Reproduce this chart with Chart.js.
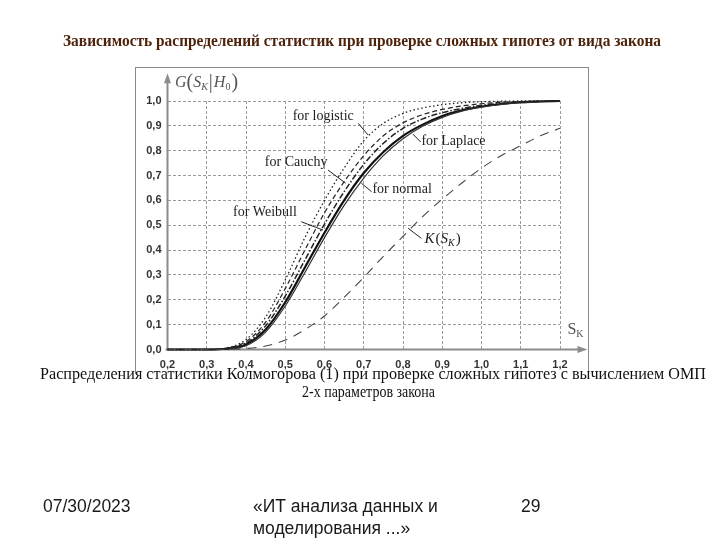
<!DOCTYPE html>
<html><head><meta charset="utf-8">
<script src="https://cdn.jsdelivr.net/npm/chart.js@4.4.0/dist/chart.umd.min.js"></script>
<style>
html,body{margin:0;padding:0;background:#fff;width:720px;height:540px;overflow:hidden;}
#wrap{position:relative;width:720px;height:540px;}
canvas{position:absolute;left:0;top:0;}
.t{position:absolute;white-space:nowrap;transform-origin:0 0;}
#title{left:63px;top:33px;font:bold 16.5px "Liberation Serif",serif;color:#4e230c;line-height:16px;}
#frame{position:absolute;left:135px;top:67px;width:452px;height:306px;border:1.5px solid #8a8a8a;border-bottom:none;}
.cap{font:16.5px "Liberation Serif",serif;line-height:18px;color:#111;}
.foot{font:17.5px "Liberation Sans",Arial,sans-serif;line-height:22px;color:#1a1a1a;}
</style></head>
<body><div id="wrap">
<div id="frame"></div>
<canvas id="c" width="720" height="540"></canvas>
<div class="t" id="title" data-w="598">Зависимость распределений статистик при проверке сложных гипотез от вида закона</div>
<div class="t cap" style="left:40px;top:365.4px" data-w="666">Распределения статистики Колмогорова (1) при проверке сложных гипотез с вычислением ОМП</div>
<div class="t cap" style="left:302px;top:383.4px" data-w="133">2-х параметров закона</div>
<div class="t foot" style="left:43px;top:495px">07/30/2023</div>
<div class="t foot" style="left:253px;top:495px">«ИТ анализа данных и<br>моделирования ...»</div>
<div class="t foot" style="left:521px;top:495px">29</div>
</div>
<script>
// ---- data ----
const xs       = [0.2, 0.3, 0.35, 0.4, 0.45, 0.5, 0.55, 0.6, 0.65, 0.7, 0.75, 0.8, 0.85, 0.9, 0.95, 1.0, 1.05, 1.1, 1.15, 1.2];
const logistic = [0, 0, 0.006, 0.04, 0.13, 0.28, 0.45, 0.60, 0.73, 0.84, 0.91, 0.95, 0.972, 0.985, 0.993, 0.997, 0.999, 1, 1, 1];
const cauchy   = [0, 0, 0.005, 0.032, 0.11, 0.245, 0.40, 0.55, 0.675, 0.78, 0.86, 0.912, 0.945, 0.966, 0.98, 0.989, 0.995, 0.998, 0.999, 1];
const weibull  = [0, 0, 0.004, 0.026, 0.095, 0.215, 0.36, 0.505, 0.635, 0.745, 0.83, 0.89, 0.928, 0.953, 0.97, 0.983, 0.991, 0.996, 0.999, 1];
const normal   = [0, 0, 0.003, 0.02, 0.08, 0.19, 0.33, 0.47, 0.60, 0.71, 0.795, 0.86, 0.905, 0.94, 0.963, 0.978, 0.988, 0.995, 0.998, 1];
const laplace  = [0, 0, 0.002, 0.015, 0.07, 0.175, 0.31, 0.45, 0.58, 0.69, 0.78, 0.848, 0.898, 0.934, 0.959, 0.975, 0.986, 0.993, 0.997, 1];
const kolmog   = [0, 0, 0.001, 0.004, 0.014, 0.038, 0.08, 0.135, 0.21, 0.29, 0.375, 0.455, 0.535, 0.605, 0.67, 0.73, 0.78, 0.82, 0.86, 0.89];
const xTickValues = [0.2, 0.3, 0.4, 0.5, 0.6, 0.7, 0.8, 0.9, 1.0, 1.1, 1.2];
const xTickLabels = ['0,2','0,3','0,4','0,5','0,6','0,7','0,8','0,9','1,0','1,1','1,2'];
const yTickValues = [0, 0.1, 0.2, 0.3, 0.4, 0.5, 0.6, 0.7, 0.8, 0.9, 1.0];
const yTickLabels = ['0,0','0,1','0,2','0,3','0,4','0,5','0,6','0,7','0,8','0,9','1,0'];
const curveNames = ['for logistic','for Cauchy','for Weibull','for Laplace','for normal'];

// ---- annotation placement (data units) ----
const notes = [
  {text: curveNames[0], at: [0.519, 0.94], lead: [[0.686, 0.91], [0.711, 0.863]]},
  {text: curveNames[1], at: [0.448, 0.752], lead: [[0.609, 0.722], [0.654, 0.669]]},
  {text: curveNames[2], at: [0.367, 0.551], lead: [[0.541, 0.514], [0.596, 0.481]]},
  {text: curveNames[3], at: [0.847, 0.839], lead: [[0.845, 0.835], [0.825, 0.867]]},
  {text: curveNames[4], at: [0.722, 0.646], lead: [[0.72, 0.635], [0.694, 0.669]]}
];

function pts(ys){ return xs.map((x,i)=>({x:x, y:ys[i]})); }

function drawParts(ctx, parts, x, y){
  let cx = x;
  parts.forEach(p=>{
    ctx.font = p.f;
    ctx.fillText(p.s, cx, y + (p.dy||0));
    cx += ctx.measureText(p.s).width + (p.gap||0);
  });
}

const decor = {
  id: 'decor',
  beforeDatasetsDraw(chart){
    const {ctx, scales:{x, y}} = chart;
    const x0 = x.getPixelForValue(0.2), y0 = y.getPixelForValue(0);
    const yTop = y.getPixelForValue(1.112), xEnd = x.getPixelForValue(1.27);
    ctx.save();
    ctx.strokeStyle = '#8c8c8c'; ctx.fillStyle = '#8c8c8c'; ctx.lineWidth = 2;
    ctx.beginPath(); ctx.moveTo(x0, y0 + 1); ctx.lineTo(x0, yTop + 8); ctx.stroke();
    ctx.beginPath(); ctx.moveTo(x0, yTop); ctx.lineTo(x0 - 3.5, yTop + 10); ctx.lineTo(x0 + 3.5, yTop + 10); ctx.closePath(); ctx.fill();
    ctx.beginPath(); ctx.moveTo(x0 - 2, y0); ctx.lineTo(xEnd - 8, y0); ctx.stroke();
    ctx.beginPath(); ctx.moveTo(xEnd, y0); ctx.lineTo(xEnd - 10, y0 - 3.5); ctx.lineTo(xEnd - 10, y0 + 3.5); ctx.closePath(); ctx.fill();
    ctx.restore();
  },
  afterDatasetsDraw(chart){
    const {ctx, scales:{x, y}} = chart;
    ctx.save();
    ctx.fillStyle = '#222'; ctx.strokeStyle = '#222'; ctx.lineWidth = 1;
    ctx.textBaseline = 'middle'; ctx.textAlign = 'left';
    notes.forEach(n=>{
      ctx.font = '14px "Liberation Serif", serif';
      ctx.fillText(n.text, x.getPixelForValue(n.at[0]), y.getPixelForValue(n.at[1]));
      ctx.beginPath();
      ctx.moveTo(x.getPixelForValue(n.lead[0][0]), y.getPixelForValue(n.lead[0][1]));
      ctx.lineTo(x.getPixelForValue(n.lead[1][0]), y.getPixelForValue(n.lead[1][1]));
      ctx.stroke();
    });
    // K(S_K) label
    const kx = x.getPixelForValue(0.855), ky = y.getPixelForValue(0.443);
    drawParts(ctx, [
      {s:'K', f:'italic 15px "Liberation Serif", serif', gap:1},
      {s:'(', f:'15px "Liberation Serif", serif'},
      {s:'S', f:'italic 15px "Liberation Serif", serif'},
      {s:'K', f:'italic 10px "Liberation Serif", serif', dy:4, gap:1},
      {s:')', f:'15px "Liberation Serif", serif'}
    ], kx, ky);
    ctx.beginPath();
    ctx.moveTo(x.getPixelForValue(0.847), y.getPixelForValue(0.447));
    ctx.lineTo(x.getPixelForValue(0.813), y.getPixelForValue(0.488));
    ctx.stroke();
    // axis titles
    ctx.fillStyle = '#555';
    drawParts(ctx, [
      {s:'G', f:'italic 16px "Liberation Serif", serif', gap:0},
      {s:'(', f:'20px "Liberation Serif", serif'},
      {s:'S', f:'italic 16px "Liberation Serif", serif'},
      {s:'K', f:'italic 10px "Liberation Serif", serif', dy:4, gap:1},
      {s:'|', f:'20px "Liberation Serif", serif', gap:1},
      {s:'H', f:'italic 16px "Liberation Serif", serif'},
      {s:'0', f:'10px "Liberation Serif", serif', dy:4, gap:1},
      {s:')', f:'20px "Liberation Serif", serif'}
    ], x.getPixelForValue(0.219), y.getPixelForValue(1.072));
    drawParts(ctx, [
      {s:'S', f:'16px "Liberation Serif", serif'},
      {s:'K', f:'10px "Liberation Serif", serif', dy:5}
    ], x.getPixelForValue(1.219), y.getPixelForValue(0.08));
    ctx.restore();
  }
};

function ds(data, dash, width, color){
  return {data: pts(data), borderColor: color, borderWidth: width, borderDash: dash,
          pointRadius: 0, fill: false, cubicInterpolationMode: 'monotone', clip: 4};
}

new Chart(document.getElementById('c'), {
  type: 'line',
  data: { datasets: [
    ds(kolmog,   [9, 7], 1.1, '#444'),
    ds(logistic, [1.5, 2.5], 1.3, '#222'),
    ds(cauchy,   [5, 3], 1.2, '#222'),
    ds(weibull,  [6, 2, 1.5, 2], 1.5, '#222'),
    ds(laplace,  [], 1.2, '#333'),
    ds(normal,   [], 2.2, '#111')
  ]},
  options: {
    responsive: false, animation: false, devicePixelRatio: 1,
    layout: { padding: { left: 100, top: 101, right: 160, bottom: 160.5 } },
    plugins: { legend: {display: false}, tooltip: {enabled: false}, title: {display: false} },
    scales: {
      x: { type: 'linear', min: 0.2, max: 1.2,
           afterBuildTicks: s => { s.ticks = xTickValues.map(v => ({value: v})); },
           afterFit: s => { s.height = 30; },
           grid: { color: '#9a9a9a', lineWidth: 1, drawTicks: false },
           border: { display: false, dash: [3, 2] },
           ticks: { padding: 9, color: '#333', maxRotation: 0, autoSkip: false,
                    font: {family: '"Liberation Sans", Arial, sans-serif', size: 11, weight: 'bold'},
                    callback: (v, i) => xTickLabels[i] } },
      y: { type: 'linear', min: 0, max: 1,
           afterBuildTicks: s => { s.ticks = yTickValues.map(v => ({value: v})); },
           afterFit: s => { s.width = 67.5; },
           grid: { color: '#9a9a9a', lineWidth: 1, drawTicks: false },
           border: { display: false, dash: [3, 2] },
           ticks: { padding: 6, color: '#333', autoSkip: false,
                    font: {family: '"Liberation Sans", Arial, sans-serif', size: 11, weight: 'bold'},
                    callback: (v, i) => yTickLabels[i] } }
    }
  },
  plugins: [decor]
});

document.querySelectorAll('[data-w]').forEach(el => {
  const w = el.getBoundingClientRect().width;
  const target = parseFloat(el.getAttribute('data-w'));
  if (w > 0) el.style.transform = 'scaleX(' + (target / w) + ')';
});
</script>
</body></html>
